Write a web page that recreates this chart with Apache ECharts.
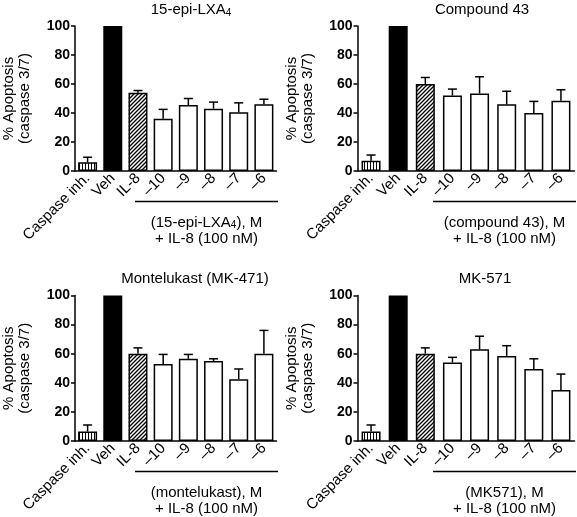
<!DOCTYPE html>
<html>
<head>
<meta charset="utf-8">
<script src="https://cdn.jsdelivr.net/npm/echarts@6/dist/echarts.min.js"></script>
<style>
html,body{margin:0;padding:0;background:#fff;}
#c{width:577px;height:517px;}
</style>
</head>
<body>
<div id="c"></div>
<script>
// ---- data ----
const categories = ['Caspase inh.', 'Veh', 'IL-8', '\u201310', '\u20139', '\u20138', '\u20137', '\u20136'];
const yTicks = [0, 20, 40, 60, 80, 100];
const lxaMean = [6, 100, 54, 36, 45.5, 43, 40.5, 46];
const lxaErr  = [3.5, 0, 1.5, 6.5, 4.5, 4.5, 6.5, 3.5];
const cpdMean = [7, 100, 60, 52, 53.5, 46, 40, 48.5];
const cpdErr  = [4, 0, 4.5, 4.5, 11.5, 9, 8, 7.5];
const monMean = [6.5, 100, 60, 53, 56.5, 55, 42.5, 60];
const monErr  = [4.5, 0, 4, 6.5, 3, 1.5, 7, 16];
const mkMean  = [6.5, 100, 60, 54, 63, 58.5, 49.5, 35];
const mkErr   = [4.5, 0, 4, 3.5, 9, 7, 7, 11];
const panelTitles = ['15-epi-LXA{s|4}', 'Compound 43', 'Montelukast (MK-471)', 'MK-571'];
const groupLabels = [
  ['(15-epi-LXA{s|4}), M', '+ IL-8 (100 nM)'],
  ['(compound 43), M', '+ IL-8 (100 nM)'],
  ['(montelukast), M', '+ IL-8 (100 nM)'],
  ['(MK571), M', '+ IL-8 (100 nM)']
];
const means = [lxaMean, cpdMean, monMean, mkMean];
const errs = [lxaErr, cpdErr, monErr, mkErr];

// ---- patterns ----
function stripePattern() {
  const c = document.createElement('canvas');
  c.width = 3; c.height = 3;
  const x = c.getContext('2d');
  x.fillStyle = '#fff'; x.fillRect(0, 0, 3, 3);
  x.fillStyle = '#000'; x.fillRect(1, 0, 1, 3);
  return { image: c, repeat: 'repeat' };
}
function hatchPattern() {
  const n = 4;
  const c = document.createElement('canvas');
  c.width = n; c.height = n;
  const x = c.getContext('2d');
  x.fillStyle = '#fff'; x.fillRect(0, 0, n, n);
  x.strokeStyle = '#000'; x.lineWidth = 1.3;
  x.beginPath();
  x.moveTo(-1, n + 1); x.lineTo(n + 1, -1);
  x.moveTo(-1, 1); x.lineTo(1, -1);
  x.moveTo(n - 1, n + 1); x.lineTo(n + 1, n - 1);
  x.stroke();
  return { image: c, repeat: 'repeat' };
}
const fills = [stripePattern(), '#000', hatchPattern(), '#fff', '#fff', '#fff', '#fff', '#fff'];

const FONT = "'Liberation Sans', Arial, sans-serif";
const grids = [
  { left: 59.5, top: 26, width: 217, height: 145 },
  { left: 357.5, top: 26, width: 217, height: 145 },
  { left: 59.5, top: 295.5, width: 217, height: 145.5 },
  { left: 357.5, top: 295.5, width: 217, height: 145.5 }
];
const titlePos = [[191, 10], [482, 10], [195, 279], [485, 279]];
const richSub = { s: { fontSize: 10, verticalAlign: 'bottom', padding: [6, 0, 0, 0], fill: '#000' } };

const xAxis = [], yAxis = [], series = [], graphic = [];
grids.forEach((g, i) => {
  xAxis.push({
    type: 'category', gridIndex: i, data: categories,
    axisLine: { show: true, lineStyle: { color: '#000', width: 1.5 } },
    axisTick: { show: false },
    axisLabel: { rotate: 45, interval: 0, margin: 5, fontSize: 15, color: '#000', fontFamily: FONT }
  });
  yAxis.push({
    type: 'value', gridIndex: i, min: yTicks[0], max: yTicks[yTicks.length - 1], interval: yTicks[1] - yTicks[0],
    name: '% Apoptosis\n(caspase 3/7)', nameLocation: 'middle', nameGap: 42,
    nameTextStyle: { fontSize: 15, lineHeight: 16, color: '#000', fontFamily: FONT },
    axisLine: { show: true, lineStyle: { color: '#000', width: 1.5 } },
    axisTick: { show: true, length: 4, lineStyle: { color: '#000', width: 1.5 } },
    axisLabel: { fontSize: 14, color: '#000', margin: 5, fontFamily: FONT, fontWeight: 'bold' },
    splitLine: { show: false }
  });
  series.push({
    type: 'bar', xAxisIndex: i, yAxisIndex: i, barWidth: 19,
    data: means[i].map((v, k) => ({ value: v, itemStyle: { color: fills[k] } })),
    itemStyle: { borderColor: '#000', borderWidth: 1.5 },
    silent: true, animation: false
  });
  series.push({
    type: 'custom', xAxisIndex: i, yAxisIndex: i, z: 5,
    data: means[i].map((v, k) => [k, v, errs[i][k]]),
    renderItem: function (params, api) {
      const e = api.value(2);
      if (!e) return null;
      const p0 = api.coord([api.value(0), api.value(1)]);
      const p1 = api.coord([api.value(0), api.value(1) + e]);
      const st = { stroke: '#000', lineWidth: 1.5 };
      return {
        type: 'group', children: [
          { type: 'line', shape: { x1: p0[0], y1: p0[1], x2: p1[0], y2: p1[1] }, style: st },
          { type: 'line', shape: { x1: p1[0] - 4.5, y1: p1[1], x2: p1[0] + 4.5, y2: p1[1] }, style: st }
        ]
      };
    },
    silent: true, animation: false
  });
  graphic.push({
    type: 'text', x: titlePos[i][0], y: titlePos[i][1],
    style: { text: panelTitles[i], align: 'center', verticalAlign: 'middle', fill: '#000', font: '15px ' + FONT, rich: richSub }
  });
  const lx1 = g.left + 75.5, lx2 = g.left + 218.5, ly = g.top + g.height + 30.5;
  graphic.push({ type: 'line', shape: { x1: lx1, y1: ly, x2: lx2, y2: ly }, style: { stroke: '#000', lineWidth: 1.5 } });
  const cx = (lx1 + lx2) / 2;
  graphic.push({
    type: 'text', x: cx, y: ly + 21,
    style: { text: groupLabels[i][0], align: 'center', verticalAlign: 'middle', fill: '#000', font: '15px ' + FONT, rich: richSub }
  });
  graphic.push({
    type: 'text', x: cx, y: ly + 37,
    style: { text: groupLabels[i][1], align: 'center', verticalAlign: 'middle', fill: '#000', font: '15px ' + FONT }
  });
});

const chart = echarts.init(document.getElementById('c'), null, { renderer: 'canvas' });
chart.setOption({
  animation: false,
  backgroundColor: '#fff',
  textStyle: { fontFamily: FONT },
  grid: grids,
  xAxis: xAxis,
  yAxis: yAxis,
  series: series,
  graphic: graphic
});
</script>
</body>
</html>
